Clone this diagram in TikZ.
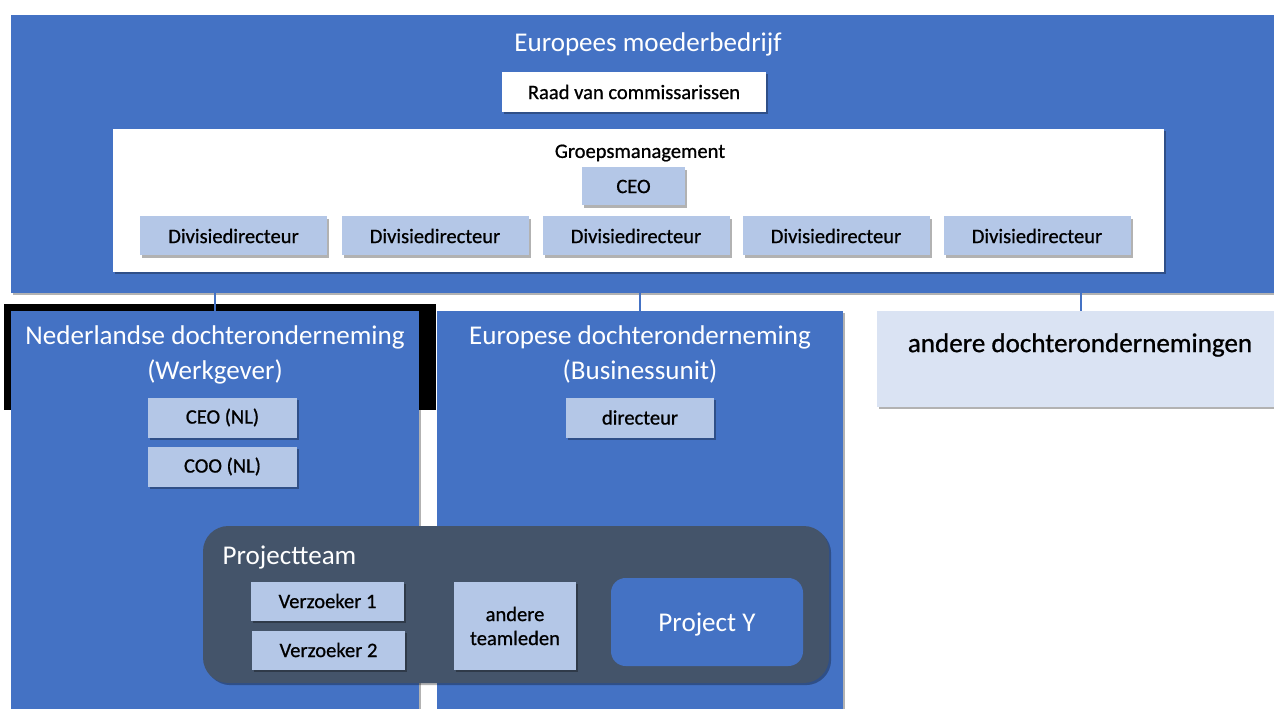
\documentclass[tikz,border=0pt]{standalone}
\usepackage{fontspec}
\setmainfont{Carlito}
\newfontfamily\darkfont[FakeBold=0.8]{Carlito}
\usetikzlibrary{shadows,calc}
\definecolor{mainblue}{HTML}{4472C4}
\definecolor{lightbox}{HTML}{B4C7E7}
\definecolor{palebox}{HTML}{DAE3F3}
\definecolor{slate}{HTML}{44546A}
\tikzset{
  sz/.style 2 args={minimum width=#1*0.75pt, minimum height=#2*0.75pt},
  base/.style={inner sep=0pt, outer sep=0pt, draw=none},
  shad/.style={drop shadow={shadow xshift=1.6pt, shadow yshift=-1.6pt, opacity=0.3, fill=black}},
  bigtxt/.style={font=\fontsize{20.3pt}{26.3pt}\selectfont},
  bigdark/.style={font=\darkfont\fontsize{20.3pt}{26.3pt}\selectfont},
  smalltxt/.style={font=\darkfont\fontsize{15.4pt}{18pt}\selectfont},
  unit/.style={base, fill=mainblue, shad},
  role/.style={base, fill=lightbox, shad, smalltxt, text=black},
  whitebox/.style={base, fill=white, shad},
  link/.style={draw=mainblue, line width=0.9pt},
}
\begin{document}
\begin{tikzpicture}[x=0.75pt, y=-0.75pt]
\useasboundingbox (0,0) rectangle (1274,709);
% parent company
\node[unit, sz={1263}{278}] (top) at (642.5,154) {};
\node[bigtxt, text=white] (toptitle) at (648,44) {Europees moederbedrijf};
\node[whitebox, sz={264}{40}, smalltxt] (raad) at (634,92) {Raad van commissarissen};
\node[whitebox, sz={1051}{143}] (groep) at (638.5,200.5) {};
\node[smalltxt] (groeplbl) at (640,153) {Groepsmanagement};
\node[role, sz={103}{38}] (ceo) at (633.5,186.5) {CEO};
\foreach \i/\x in {1/233.5,2/435,3/636,4/836,5/1037}
  \node[role, sz={187}{39}] (div\i) at (\x,236) {Divisiedirecteur};
% subsidiaries
\node[base, fill=black, sz={432}{106}] (blackframe) at (220,357) {};
\node[unit, sz={408}{398}] (ned) at (215,510) {};
\node[unit, sz={406}{398}] (eur) at (640,510) {};
\node[base, fill=palebox, shad, sz={397}{96}] (other) at (1075.5,359) {};
\node[bigdark, text=black] (otherlbl) at (1080,345) {andere dochterondernemingen};
% connectors
\draw[link] ($(top.south)+(-427.5,0)$) -- (ned.north);
\draw[link] ($(top.south)+(-2.5,0)$) -- (eur.north);
\draw[link] ($(top.south)+(438.5,0)$) -- ($(other.north)+(5.5,0)$);
% subsidiary contents
\node[bigtxt, text=white, align=center] (nedlbl) at (215,354.5) {Nederlandse dochteronderneming\\(Werkgever)};
\node[bigtxt, text=white, align=center] (eurlbl) at (640,354.5) {Europese dochteronderneming\\(Businessunit)};
\node[role, sz={149}{40}] (ceonl) at (222.5,417.5) {CEO (NL)};
\node[role, sz={149}{40}] (coonl) at (222.5,466.5) {COO (NL)};
\node[role, sz={148}{40}] (dir) at (640,417.5) {directeur};
% project team
\node[base, fill=slate, rounded corners=19pt, shad, sz={626}{157}] (team) at (516,604.5) {};
\node[bigtxt, text=white, anchor=west] (teamlbl) at (218,558) {Projectteam};
\node[role, sz={153}{39}] (v1) at (327.5,601) {Verzoeker 1};
\node[role, sz={153}{39}] (v2) at (328.5,650) {Verzoeker 2};
\node[role, sz={122}{88}, align=center] (others) at (515,626) {andere\\teamleden};
\node[base, fill=mainblue, rounded corners=11pt, sz={192}{88}, bigtxt, text=white] (projy) at (707,622) {};
\node[bigtxt, text=white] (projylbl) at (707,624.5) {Project Y};
\end{tikzpicture}
\end{document}
